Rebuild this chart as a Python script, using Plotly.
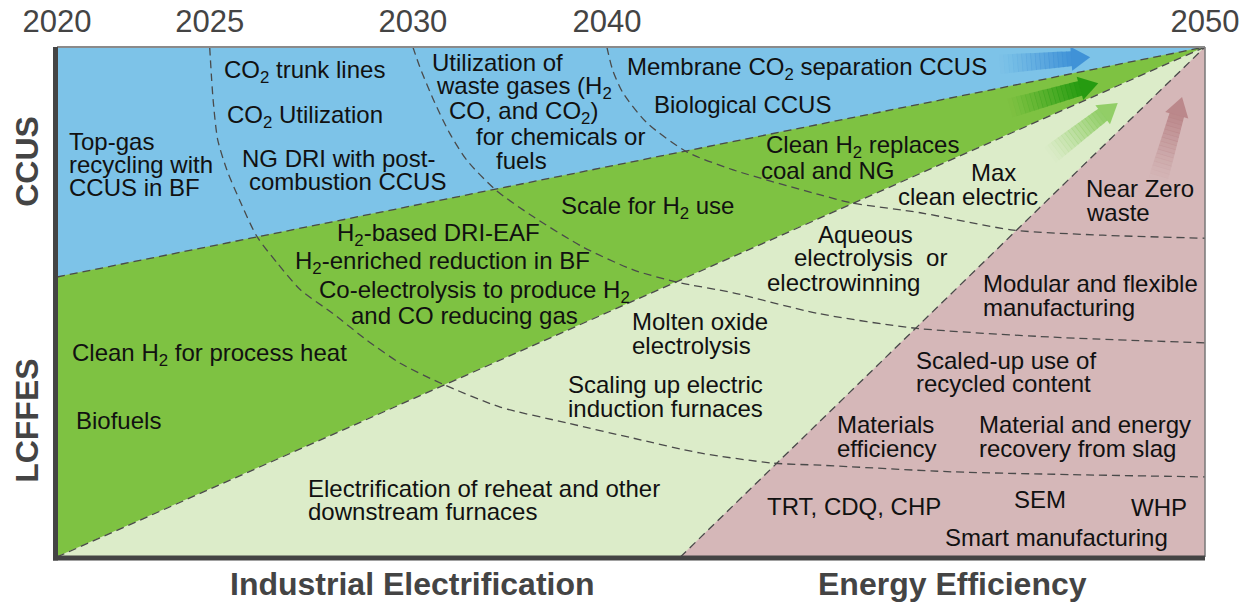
import math
import plotly.graph_objects as go

# ---------------- data (axis units: x 0-100 left->right, y 0-100 bottom->top) -------------
years = ["2020", "2025", "2030", "2040", "2050"]
year_pos = [0, 13.3, 31.0, 47.9, 100]

# region polygons
blue_x = [0, 0, 100]
blue_y = [54.9, 100, 100]
green_x = [0, 0, 100]
green_y = [0, 54.9, 100]
light_x = [0, 100, 54.3]
light_y = [0, 100, 0]
pink_x = [54.3, 100, 100]
pink_y = [0, 100, 0]

# dashed region boundaries
bound_blue_green_x = [0, 100]
bound_blue_green_y = [54.9, 100]
bound_green_light_x = [0, 100]
bound_green_light_y = [0, 100]
bound_light_pink_x = [54.3, 100]
bound_light_pink_y = [0, 100]

# dashed time horizon arcs
arc2025_x = [13.3, 13.6, 14.0, 14.8, 15.9, 17.4, 19.2, 21.2, 24.0, 27.0, 29.9, 33.6, 38.6,
             44.4, 50.2, 56.0, 62.4, 66.5, 78.0, 89.7, 100]
arc2025_y = [100, 89.6, 81.8, 75.9, 70.0, 62.9, 57.6, 52.4, 47.8, 42.5, 38.0, 33.9, 29.4,
             26.3, 23.3, 20.4, 18.4, 18.0, 16.7, 16.1, 15.7]
arc2030_x = [31.0, 31.6, 32.8, 34.2, 35.7, 38.2, 41.5, 45.8, 50.2, 54.0, 58.9, 66.2, 74.6, 86.8, 100]
arc2030_y = [100, 96.1, 89.6, 83.1, 77.8, 72.0, 66.7, 60.8, 56.3, 53.9, 51.8, 47.8, 44.9, 43.1, 42.0]
arc2040_x = [47.9, 48.4, 49.3, 51.4, 54.9, 58.9, 66.5, 69.3, 75.2, 83.3, 91.1, 100]
arc2040_y = [100, 95.5, 91.0, 85.1, 79.4, 75.9, 71.0, 69.4, 67.5, 64.1, 63.1, 62.5]

# arrows: tail (x,y), tip (x,y)
arrow_tail_x = [82.1, 83.0, 86.5, 95.9]
arrow_tail_y = [96.6, 88.0, 78.8, 73.9]
arrow_tip_x = [90.0, 90.7, 92.4, 98.0]
arrow_tip_y = [98.0, 92.9, 89.0, 90.2]
arrow_colors = ["61,143,214", "34,153,15", "141,204,98", "185,133,136"]

# labels
label_text = [
    "Top-gas", "recycling with", "CCUS in BF",
    "CO<sub>2</sub> trunk lines", "CO<sub>2</sub> Utilization",
    "NG DRI with post-", "combustion CCUS",
    "Utilization of", "waste gases (H<sub>2</sub>", "CO, and CO<sub>2</sub>)",
    "for chemicals or", "fuels",
    "Membrane CO<sub>2</sub> separation CCUS", "Biological CCUS",
    "Clean H<sub>2</sub> replaces", "coal and NG",
    "Scale for H<sub>2</sub> use",
    "Max", "clean electric",
    "Near Zero", "waste",
    "H<sub>2</sub>-based DRI-EAF", "H<sub>2</sub>-enriched reduction in BF",
    "Co-electrolysis to produce H<sub>2</sub>", "and CO reducing gas",
    "Aqueous", "electrolysis  or", "electrowinning",
    "Molten oxide", "electrolysis",
    "Scaling up electric", "induction furnaces",
    "Modular and flexible", "manufacturing",
    "Clean H<sub>2</sub> for process heat", "Biofuels",
    "Scaled-up use of", "recycled content",
    "Materials", "efficiency",
    "Material and energy", "recovery from slag",
    "Electrification of reheat and other", "downstream furnaces",
    "TRT, CDQ, CHP", "SEM", "WHP", "Smart manufacturing",
]
label_x = [
    0.85, 0.85, 0.85,
    14.35, 14.65,
    15.95, 16.55,
    32.45, 32.85, 33.95,
    36.35, 38.05,
    49.45, 51.85,
    61.55, 61.15,
    43.75,
    79.45, 73.05,
    89.45, 89.45,
    24.25, 20.55,
    22.65, 25.45,
    66.1, 64.0, 61.7,
    49.95, 49.95,
    44.35, 44.35,
    80.45, 80.45,
    1.15, 1.45,
    74.65, 74.65,
    67.75, 67.75,
    80.15, 80.15,
    21.65, 21.65,
    61.65, 83.15, 93.35, 77.15,
]
label_y = [
    81.4, 76.9, 72.4,
    95.1, 86.3,
    78.2, 73.7,
    96.9, 92.0, 87.1,
    82.4, 77.8,
    95.7, 88.8,
    80.4, 75.7,
    68.6,
    75.3, 70.6,
    72.2, 67.6,
    63.3, 57.8,
    52.0, 47.3,
    63.2, 58.7, 53.8,
    46.1, 41.4,
    33.9, 29.2,
    53.7, 49.0,
    39.8, 26.7,
    38.6, 34.1,
    25.9, 21.2,
    25.9, 21.2,
    13.5, 9.0,
    10.0, 11.2, 9.8, 3.9,
]

side_labels = ["CCUS", "LCFFES"]
side_label_y = [0.775, 0.267]
bottom_labels = ["Industrial Electrification", "Energy Efficiency"]
bottom_label_x = [31.0, 78.0]

# ---------------- styling -------------
FONT = "Liberation Sans, Arial, Helvetica, sans-serif"
C_BLUE = "#7DC3E8"
C_GREEN = "#7EC242"
C_LIGHT = "#DCECC9"
C_PINK = "#D5B7B8"
DASH_COLOR = "#4a4a4a"

W, H = 1250, 604
ML, MR, MT, MB = 57, 45, 47, 47
PW, PH = W - ML - MR, H - MT - MB
SX, SY = PW / 100.0, PH / 100.0

fig = go.Figure()


def poly(xs, ys, color):
    fig.add_trace(go.Scatter(x=xs + [xs[0]], y=ys + [ys[0]], fill="toself", fillcolor=color,
                             mode="lines", line=dict(width=0.5, color=color),
                             hoverinfo="skip", showlegend=False))


poly(blue_x, blue_y, C_BLUE)
poly(green_x, green_y, C_GREEN)
poly(light_x, light_y, C_LIGHT)
poly(pink_x, pink_y, C_PINK)


def dashed(xs, ys, spline=False):
    fig.add_trace(go.Scatter(x=xs, y=ys, mode="lines",
                             line=dict(color=DASH_COLOR, width=1.3, dash="8px,5px",
                                       shape="spline" if spline else "linear", smoothing=0.7),
                             hoverinfo="skip", showlegend=False))


for xs, ys in [(arc2025_x, arc2025_y), (arc2030_x, arc2030_y), (arc2040_x, arc2040_y)]:
    dashed(xs, ys, spline=True)
for xs, ys in [(bound_blue_green_x, bound_blue_green_y), (bound_green_light_x, bound_green_light_y),
               (bound_light_pink_x, bound_light_pink_y)]:
    dashed(xs, ys)


# gradient arrows
def arrow(tx, ty, hx, hy, rgb, body_w=15, head_w=24, head_len=19, n=16):
    ax, ay = tx * SX, ty * SY
    bx, by = hx * SX, hy * SY
    dx, dy = bx - ax, by - ay
    L = math.hypot(dx, dy)
    ux, uy = dx / L, dy / L
    px_, py_ = -uy, ux
    baseL = L - head_len

    def to_data(x, y):
        return x / SX, y / SY

    for i in range(n):
        s0 = baseL * i / n
        s1 = baseL * (i + 1) / n + 0.6
        a = ((i + 0.5) / n) ** 1.2 * 0.95
        pts = []
        for s, sgn in [(s0, 1), (s1, 1), (s1, -1), (s0, -1)]:
            w = body_w / 2 * (1 + 0.3 * (1 - s / baseL))
            pts.append(to_data(ax + ux * s + px_ * w * sgn, ay + uy * s + py_ * w * sgn))
        fig.add_trace(go.Scatter(x=[p[0] for p in pts] + [pts[0][0]], y=[p[1] for p in pts] + [pts[0][1]],
                                 fill="toself", fillcolor=f"rgba({rgb},{a:.3f})", mode="lines",
                                 line=dict(width=0), hoverinfo="skip", showlegend=False))
    bxx, byy = ax + ux * baseL, ay + uy * baseL
    tri = [to_data(bxx + px_ * head_w / 2, byy + py_ * head_w / 2), to_data(bx, by),
           to_data(bxx - px_ * head_w / 2, byy - py_ * head_w / 2)]
    fig.add_trace(go.Scatter(x=[p[0] for p in tri] + [tri[0][0]], y=[p[1] for p in tri] + [tri[0][1]],
                             fill="toself", fillcolor=f"rgba({rgb},0.95)", mode="lines",
                             line=dict(width=0), hoverinfo="skip", showlegend=False))


for i in range(len(arrow_tail_x)):
    arrow(arrow_tail_x[i], arrow_tail_y[i], arrow_tip_x[i], arrow_tip_y[i], arrow_colors[i])

annotations = []
for t, x, y in zip(label_text, label_x, label_y):
    annotations.append(dict(text=t, x=x, y=y, xref="x", yref="y", xanchor="left", yanchor="middle",
                            showarrow=False, font=dict(family=FONT, size=24, color="#111111")))
for t, y in zip(side_labels, side_label_y):
    annotations.append(dict(text=f"<b>{t}</b>", x=0, y=y, xref="paper", yref="paper", xshift=-30,
                            textangle=-90, showarrow=False, xanchor="center", yanchor="middle",
                            font=dict(family=FONT, size=32, color="#444444")))
for t, x in zip(bottom_labels, bottom_label_x):
    annotations.append(dict(text=f"<b>{t}</b>", x=x, y=0, xref="x", yref="paper", yshift=-27,
                            showarrow=False, xanchor="center", yanchor="middle",
                            font=dict(family=FONT, size=32, color="#444444")))

shapes = [
    dict(type="line", xref="paper", yref="paper", x0=0, x1=1, y0=1, y1=1,
         line=dict(color="#8a8a8a", width=2)),
    dict(type="line", xref="paper", yref="paper", x0=1, x1=1, y0=0, y1=1,
         line=dict(color="#777777", width=1.5)),
    dict(type="line", xref="paper", yref="paper", x0=-1.5 / PW, x1=-1.5 / PW, y0=-3.5 / PH, y1=1,
         line=dict(color="#444444", width=5)),
    dict(type="line", xref="paper", yref="paper", x0=-4 / PW, x1=1, y0=-1 / PH, y1=-1 / PH,
         line=dict(color="#444444", width=5)),
]

fig.update_layout(
    width=W, height=H,
    margin=dict(l=ML, r=MR, t=MT, b=MB, autoexpand=False),
    paper_bgcolor="white", plot_bgcolor="white",
    showlegend=False,
    xaxis=dict(range=[0, 100], side="top", tickvals=year_pos, ticktext=years, ticks="",
               showgrid=False, zeroline=False, showline=False, fixedrange=True, automargin=False,
               tickfont=dict(family=FONT, size=31, color="#444444"), ticklabelstandoff=8),
    yaxis=dict(range=[0, 100], visible=False, fixedrange=True, automargin=False),
    annotations=annotations,
    shapes=shapes,
)

fig.write_html("out.html", config={"displayModeBar": False},
               post_script="document.documentElement.style.margin='0';document.body.style.margin='0';"
                           "document.body.style.padding='0';document.body.style.overflow='hidden';")
